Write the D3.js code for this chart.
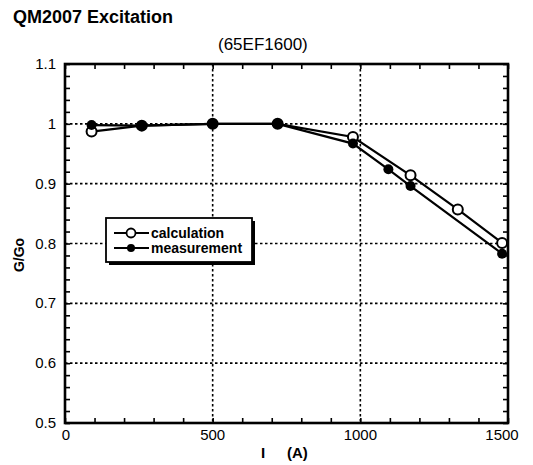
<!DOCTYPE html>
<html><head><meta charset="utf-8">
<script src="https://cdn.jsdelivr.net/npm/d3@7"></script>
<style>body{margin:0;background:#fff}svg{display:block;font-family:"Liberation Sans",Arial,sans-serif}</style>
</head><body>
<svg id="c" width="533" height="465"></svg>
<script>
const calcX = [90, 260, 500, 720, 975, 1170, 1330, 1480];
const calcY = [0.987, 0.997, 1.0, 1.0, 0.978, 0.914, 0.857, 0.801];
const measX = [90, 260, 500, 720, 975, 1095, 1170, 1480];
const measY = [0.998, 0.997, 1.0, 1.0, 0.967, 0.924, 0.896, 0.783];
const xTicks = [0, 500, 1000, 1500];
const yTicks = [0.5, 0.6, 0.7, 0.8, 0.9, 1, 1.1];
const yTickLabels = ["0.5", "0.6", "0.7", "0.8", "0.9", "1", "1.1"];
const seriesNames = ["calculation", "measurement"];

const svg = d3.select("#c");
const L = 65, R = 508, T = 64, B = 423;
const x = d3.scaleLinear().domain([0, 1500]).range([L, R]);
const y = d3.scaleLinear().domain([0.5, 1.1]).range([B, T]);

// grid
const g = svg.append("g");
g.selectAll(".gy").data(yTicks.filter(v => v > 0.5 && v < 1.1)).enter().append("line")
  .attr("x1", L).attr("x2", R).attr("y1", d => y(d)).attr("y2", d => y(d))
  .attr("stroke", "#000").attr("stroke-width", 1.6).attr("stroke-dasharray", "2.5,2.5");
g.selectAll(".gx").data(xTicks.filter(v => v > 0 && v < 1500)).enter().append("line")
  .attr("y1", T).attr("y2", B).attr("x1", d => x(d)).attr("x2", d => x(d))
  .attr("stroke", "#000").attr("stroke-width", 1.6).attr("stroke-dasharray", "2.5,2.5");

// axes with inward minor ticks
const minorX = d3.range(0, 1501, 100);
const minorY = d3.range(0, 31).map(i => 0.5 + i * 0.02);
const axB = d3.axisBottom(x).tickValues(minorX).tickSize(-5).tickFormat("");
const axT = d3.axisTop(x).tickValues(minorX).tickSize(-5).tickFormat("");
const axL = d3.axisLeft(y).tickValues(minorY).tickSize(-5).tickFormat("");
const axR = d3.axisRight(y).tickValues(minorY).tickSize(-5).tickFormat("");
[[axB, `translate(0,${B})`], [axT, `translate(0,${T})`], [axL, `translate(${L},0)`], [axR, `translate(${R},0)`]].forEach(([a, t]) => {
  const gg = svg.append("g").attr("transform", t).call(a);
  gg.select(".domain").remove();
  gg.selectAll("line").attr("stroke", "#000").attr("stroke-width", 1.6);
});
svg.append("rect").attr("x", L).attr("y", T).attr("width", R - L).attr("height", B - T)
  .attr("fill", "none").attr("stroke", "#000").attr("stroke-width", 2.6);

// tick labels
svg.selectAll(".yl").data(yTicks).enter().append("text")
  .attr("x", L - 9).attr("y", d => y(d) + 5).attr("text-anchor", "end")
  .attr("font-size", 15).text((d, i) => yTickLabels[i]);
svg.selectAll(".xl").data(xTicks).enter().append("text")
  .attr("x", d => x(d) + (d === 0 ? 1 : d === 1500 ? -6 : 0)).attr("y", 440).attr("text-anchor", "middle")
  .attr("font-size", 15).text(d => d);

// titles
svg.append("text").attr("x", 13).attr("y", 23).attr("font-size", 18).attr("font-weight", "bold").text("QM2007 Excitation");
svg.append("text").attr("x", 218).attr("y", 50).attr("font-size", 17).text("(65EF1600)");
svg.append("text").attr("transform", "translate(24,255) rotate(-90)").attr("text-anchor", "middle")
  .attr("font-size", 14).attr("font-weight", "bold").text("G/Go");
svg.append("text").attr("x", 261).attr("y", 458).attr("font-size", 15).attr("font-weight", "bold").text("I");
svg.append("text").attr("x", 287).attr("y", 458).attr("font-size", 15).attr("font-weight", "bold").text("(A)");

// lines
const line = d3.line().x(d => x(d[0])).y(d => y(d[1]));
const calc = calcX.map((v, i) => [v, calcY[i]]);
const meas = measX.map((v, i) => [v, measY[i]]);
svg.append("path").datum(meas).attr("d", line).attr("fill", "none").attr("stroke", "#000").attr("stroke-width", 2.2);
svg.append("path").datum(calc).attr("d", line).attr("fill", "none").attr("stroke", "#000").attr("stroke-width", 2.2);
svg.selectAll(".mc").data(calc).enter().append("circle")
  .attr("cx", d => x(d[0])).attr("cy", d => y(d[1])).attr("r", 5)
  .attr("fill", "#fff").attr("stroke", "#000").attr("stroke-width", 2);
svg.selectAll(".mm").data(meas).enter().append("circle")
  .attr("cx", d => x(d[0])).attr("cy", d => y(d[1])).attr("r", 5)
  .attr("fill", "#000");

// legend
const lg = svg.append("g").attr("transform", "translate(106,218)");
lg.append("rect").attr("x", 3).attr("y", 3).attr("width", 146).attr("height", 44).attr("fill", "#000");
lg.append("rect").attr("x", 0).attr("y", 0).attr("width", 146).attr("height", 44).attr("fill", "#fff").attr("stroke", "#000").attr("stroke-width", 1.8);
seriesNames.forEach((n, i) => {
  const yy = 15 + i * 15;
  lg.append("line").attr("x1", 8).attr("x2", 43).attr("y1", yy).attr("y2", yy).attr("stroke", "#000").attr("stroke-width", 2);
  lg.append("circle").attr("cx", 25).attr("cy", yy).attr("r", i === 0 ? 4.5 : 4)
    .attr("fill", i === 0 ? "#fff" : "#000").attr("stroke", "#000").attr("stroke-width", i === 0 ? 1.8 : 0);
  lg.append("text").attr("x", 45).attr("y", yy + 5).attr("font-size", 14).attr("font-weight", "bold").text(n);
});
</script>
</body></html>
